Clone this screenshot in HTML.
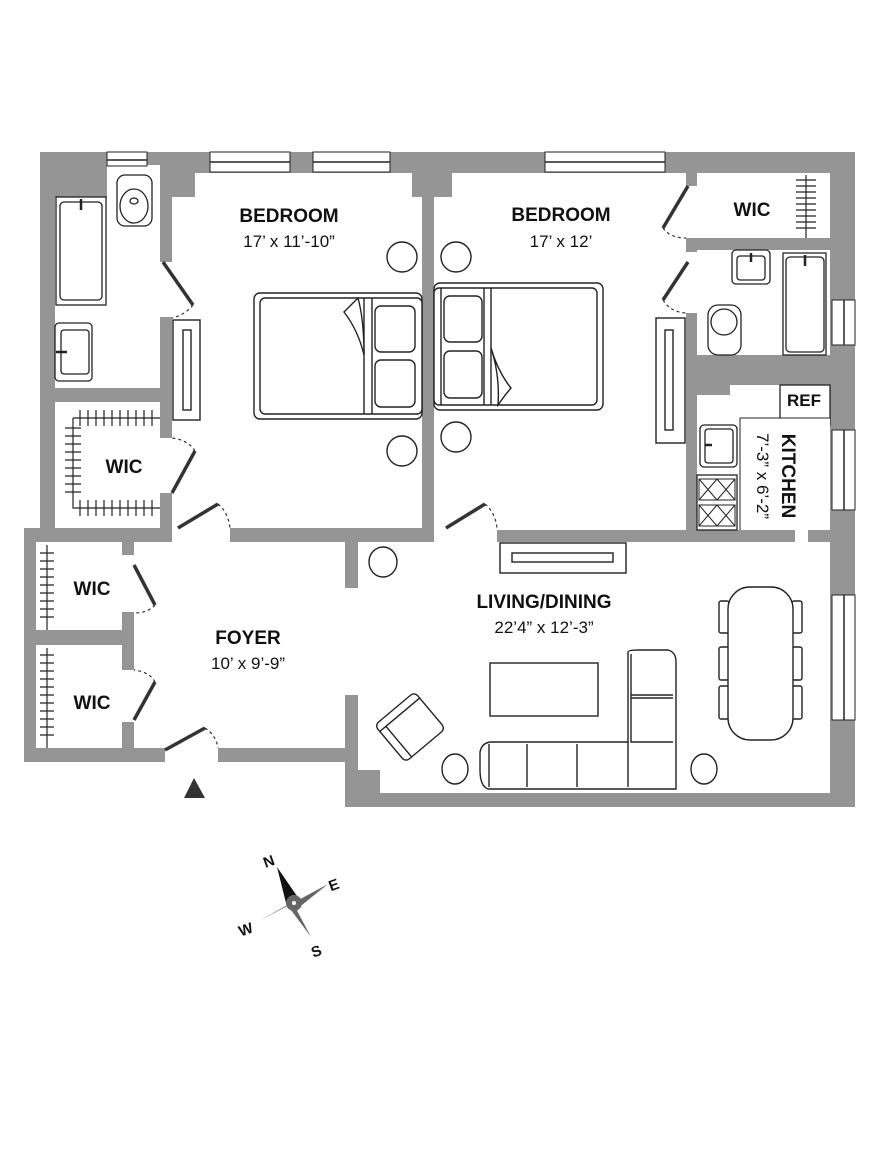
<!DOCTYPE html>
<html><head><meta charset="utf-8"><style>
html,body{margin:0;padding:0;background:#fff;}
svg{display:block;}
text{font-family:"Liberation Sans",Arial,sans-serif;fill:#111;}
.b{font-weight:bold;font-size:19px;}
.d{font-size:17px;}
</style></head><body>
<svg width="890" height="1152" viewBox="0 0 890 1152" xmlns="http://www.w3.org/2000/svg">
<polygon points="40,152 855,152 855,807 345,807 345,762 24,762 24,528 40,528" fill="#959595"/>
<g fill="#fff">
<polygon points="107,165 160,165 160,388 55,388 55,198 107,198"/>
<rect x="55" y="402" width="105" height="126"/>
<polygon points="195,173 412,173 412,197 422,197 422,528 172,528 172,197 195,197"/>
<rect x="160" y="262" width="13" height="55"/>
<rect x="160" y="438" width="13" height="55"/>
<rect x="172" y="527" width="58" height="16"/>
<polygon points="452,173 686,173 686,530 434,530 434,197 452,197"/>
<rect x="434" y="527" width="63" height="16"/>
<rect x="685" y="186" width="13" height="52"/>
<rect x="685" y="252" width="13" height="61"/>
<rect x="697" y="173" width="133" height="65"/>
<rect x="697" y="250" width="133" height="105"/>
<polygon points="730,385 830,385 830,530 697,530 697,395 730,395"/>
<rect x="795" y="529" width="13" height="14"/>
<rect x="36" y="542" width="86" height="88"/>
<rect x="36" y="645" width="86" height="103"/>
<polygon points="134,542 345,542 345,588 358,588 358,542 830,542 830,793 380,793 380,770 358,770 358,695 345,695 345,748 134,748"/>
<rect x="121" y="555" width="14" height="57"/>
<rect x="121" y="670" width="14" height="52"/>
<rect x="165" y="747" width="53" height="16"/>
</g>
<g fill="#fff" stroke="#222" stroke-width="1">
<rect x="107" y="152" width="40" height="14"/>
<rect x="210" y="152" width="80" height="20"/>
<rect x="313" y="152" width="77" height="20"/>
<rect x="545" y="152" width="120" height="20"/>
<rect x="832" y="300" width="23" height="45"/>
<rect x="832" y="430" width="23" height="80"/>
<rect x="832" y="595" width="23" height="125"/>
</g>
<g stroke="#222" stroke-width="1.5">
<line x1="107" y1="160" x2="147" y2="160"/><line x1="210" y1="162" x2="290" y2="162"/>
<line x1="313" y1="162" x2="390" y2="162"/><line x1="545" y1="162" x2="665" y2="162"/>
<line x1="844" y1="300" x2="844" y2="345"/><line x1="844" y1="430" x2="844" y2="510"/>
<line x1="844" y1="595" x2="844" y2="720"/>
</g>
<g stroke="#333" stroke-width="3.5">
<line x1="163" y1="262" x2="193" y2="305"/>
<line x1="172" y1="493" x2="195" y2="451"/>
<line x1="178" y1="528" x2="218" y2="504"/>
<line x1="446" y1="528" x2="485" y2="504"/>
<line x1="688" y1="186" x2="663" y2="228"/>
<line x1="688" y1="262" x2="663" y2="300"/>
<line x1="134" y1="565" x2="155" y2="605"/>
<line x1="134" y1="720" x2="155" y2="682"/>
<line x1="165" y1="750" x2="205" y2="728"/>
</g>
<g stroke="#333" stroke-width="1.2" fill="none" stroke-dasharray="3,3">
<path d="M193,305 Q185,315 172,318"/>
<path d="M195,451 Q188,440 172,438"/>
<path d="M218,504 Q228,512 230,528"/>
<path d="M485,504 Q495,512 497,528"/>
<path d="M663,228 Q670,238 686,238"/>
<path d="M663,300 Q670,312 686,313"/>
<path d="M155,605 Q148,613 134,613"/>
<path d="M155,682 Q150,672 134,670"/>
<path d="M205,728 Q216,735 218,748"/>
</g>
<g fill="#fff" stroke="#222" stroke-width="1.3">
<rect x="56" y="197" width="50" height="108"/>
<rect x="60" y="202" width="42" height="98" rx="4"/>
<rect x="55" y="323" width="37" height="58" rx="4"/>
<rect x="61" y="330" width="28" height="44" rx="3"/>
<rect x="117" y="175" width="35" height="51" rx="8"/>
<ellipse cx="134" cy="206" rx="14" ry="17"/>
<ellipse cx="134" cy="201" rx="4" ry="3"/>
<rect x="783" y="253" width="43" height="102"/>
<rect x="786" y="257" width="38" height="95" rx="4"/>
<rect x="732" y="250" width="38" height="34" rx="4"/>
<rect x="737" y="256" width="28" height="24" rx="3"/>
<rect x="708" y="305" width="33" height="50" rx="10"/>
<ellipse cx="724" cy="322" rx="13" ry="13"/>
<rect x="700" y="425" width="37" height="42" rx="4"/>
<rect x="705" y="429" width="28" height="34" rx="3"/>
<rect x="697" y="475" width="40" height="55"/>
<rect x="780" y="385" width="50" height="40"/>
<rect x="740" y="418" width="90" height="112" stroke="none"/>
</g>
<g stroke="#222" stroke-width="1">
<rect x="699" y="479" width="36" height="21" fill="none"/><rect x="699" y="505" width="36" height="21" fill="none"/>
<path d="M699,479 L717,500 M717,479 L699,500 M717,479 L735,500 M735,479 L717,500 M699,505 L717,526 M717,505 L699,526 M717,505 L735,526 M735,505 L717,526"/>
<line x1="740" y1="418" x2="740" y2="530"/><line x1="740" y1="418" x2="830" y2="418"/>
</g>
<g stroke="#222" stroke-width="2.5"><line x1="81" y1="199" x2="81" y2="210"/><line x1="56" y1="352" x2="67" y2="352"/><line x1="751" y1="253" x2="751" y2="262"/><line x1="805" y1="255" x2="805" y2="266"/><line x1="705" y1="445" x2="712" y2="445"/></g>
<g stroke="#222" stroke-width="1.2" fill="none">
<path d="M73,418 L160,418 M73,418 L73,508 L160,508"/>
<path d="M80,410 V426 M88,410 V426 M96,410 V426 M104,410 V426 M112,410 V426 M120,410 V426 M128,410 V426 M136,410 V426 M144,410 V426 M152,410 V426"/>
<path d="M80,500 V516 M88,500 V516 M96,500 V516 M104,500 V516 M112,500 V516 M120,500 V516 M128,500 V516 M136,500 V516 M144,500 V516 M152,500 V516"/>
<path d="M65,428 H81 M65,436 H81 M65,444 H81 M65,452 H81 M65,460 H81 M65,468 H81 M65,476 H81 M65,484 H81 M65,492 H81"/>
<path d="M806,175 V238 M796,180 H816 M796,186 H816 M796,192 H816 M796,198 H816 M796,204 H816 M796,210 H816 M796,216 H816 M796,222 H816 M796,228 H816"/>
<path d="M47,545 V630 M40,553 H54 M40,561 H54 M40,569 H54 M40,577 H54 M40,585 H54 M40,593 H54 M40,601 H54 M40,609 H54 M40,617 H54"/>
<path d="M47,648 V748 M40,655 H54 M40,663 H54 M40,671 H54 M40,679 H54 M40,687 H54 M40,695 H54 M40,703 H54 M40,711 H54 M40,719 H54 M40,727 H54 M40,735 H54"/>
</g>
<g fill="#fff" stroke="#222" stroke-width="1.4">
<rect x="173" y="320" width="27" height="100"/><rect x="183" y="330" width="8" height="80"/>
<rect x="656" y="318" width="29" height="125"/><rect x="665" y="330" width="8" height="100"/>
<rect x="254" y="293" width="168" height="126" rx="6"/>
<rect x="260" y="298" width="162" height="116" rx="5"/>
<line x1="364" y1="298" x2="364" y2="414"/><line x1="372" y1="298" x2="372" y2="414"/>
<rect x="375" y="306" width="40" height="46" rx="6"/><rect x="375" y="360" width="40" height="47" rx="6"/>
<path d="M344,312 Q354,302 358,298 Q364,320 364,355 Q358,330 344,312Z"/>
<rect x="434" y="283" width="169" height="127" rx="6"/>
<rect x="434" y="288" width="163" height="117" rx="5"/>
<line x1="441" y1="288" x2="441" y2="405"/><line x1="484" y1="288" x2="484" y2="405"/><line x1="491" y1="288" x2="491" y2="405"/>
<rect x="444" y="296" width="38" height="46" rx="6"/><rect x="444" y="351" width="38" height="47" rx="6"/>
<path d="M491,348 Q500,375 498,405 Q505,395 511,388 Q498,372 491,348Z"/>
<circle cx="402" cy="257" r="15"/><circle cx="402" cy="451" r="15"/>
<circle cx="456" cy="257" r="15"/><circle cx="456" cy="437" r="15"/>
<rect x="500" y="543" width="126" height="30"/><rect x="512" y="553" width="101" height="9"/>
<ellipse cx="383" cy="562" rx="14" ry="15"/>
<ellipse cx="455" cy="769" rx="13" ry="15"/><ellipse cx="704" cy="769" rx="13" ry="15"/>
<rect x="719" y="601" width="10" height="32" rx="2"/><rect x="719" y="647" width="10" height="33" rx="2"/><rect x="719" y="686" width="10" height="33" rx="2"/>
<rect x="792" y="601" width="10" height="32" rx="2"/><rect x="792" y="647" width="10" height="33" rx="2"/><rect x="792" y="686" width="10" height="33" rx="2"/>
<rect x="728" y="587" width="65" height="153" rx="22"/>
<rect x="490" y="663" width="108" height="53"/>
<path d="M628,652 Q628,650 640,650 L668,650 Q676,652 676,662 L676,789 L488,789 Q480,786 480,770 L480,752 Q482,742 492,742 L628,742 Z"/>
<path d="M489,744 V787 M527,744 V787 M577,744 V787 M628,742 V787 M631,654 V742 H673 M631,695 H673 M631,698 H673"/>
<g transform="translate(410,727) rotate(-40)"><rect x="-26" y="-24" width="52" height="48" rx="5"/><path d="M-26,-16 H26 M-18,-16 V24"/></g>
</g>
<polygon points="194,778 184,798 205,798" fill="#333"/>
<g text-anchor="middle">
<text class="b" x="289" y="222">BEDROOM</text><text class="d" x="289" y="247">17’ x 11’-10”</text>
<text class="b" x="561" y="221">BEDROOM</text><text class="d" x="561" y="247">17’ x 12’</text>
<text class="b" x="752" y="216">WIC</text>
<text class="b" x="804" y="406" style="font-size:17px">REF</text>
<text class="b" x="124" y="473">WIC</text>
<text class="b" x="92" y="595">WIC</text>
<text class="b" x="92" y="709">WIC</text>
<text class="b" x="248" y="644">FOYER</text><text class="d" x="248" y="669">10’ x 9’-9”</text>
<text class="b" x="544" y="608">LIVING/DINING</text><text class="d" x="544" y="633">22’4” x 12’-3”</text>
<text class="b" transform="translate(782,476) rotate(90)">KITCHEN</text>
<text class="d" transform="translate(757,476) rotate(90)">7’-3” x 6’-2”</text>
</g>
<g>
<polygon points="277,867 299,899 287,907" fill="#111"/>
<polygon points="293,903 328,884 297,909" fill="#666"/>
<polygon points="293,903 311,937 288,906" fill="#666"/>
<polygon points="293,903 259,921 298,899" fill="#666"/>
<circle cx="294" cy="903" r="8" fill="#666"/><circle cx="294" cy="903" r="2" fill="#fff"/>
<text x="263" y="866" font-size="15" font-weight="bold" transform="rotate(-20 270 860)">N</text>
<text x="328" y="889" font-size="15" font-weight="bold" transform="rotate(-20 336 882)">E</text>
<text x="238" y="934" font-size="15" font-weight="bold" transform="rotate(-20 247 927)">W</text>
<text x="311" y="956" font-size="15" font-weight="bold" transform="rotate(-20 317 950)">S</text>
</g>
</svg>
</body></html>
